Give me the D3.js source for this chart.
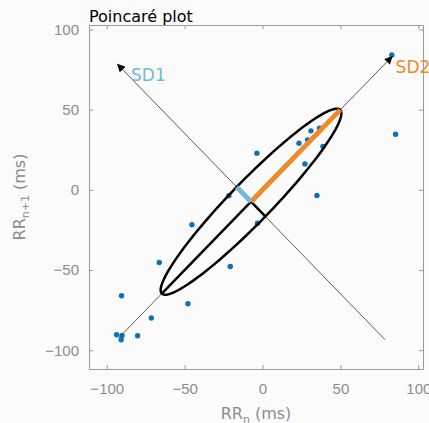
<!DOCTYPE html>
<html>
<head>
<meta charset="utf-8">
<script src="https://cdn.jsdelivr.net/npm/d3@7"></script>
<style>
body { margin: 0; background: #fbfbfb; }
svg { display: block; font-family: "DejaVu Sans", sans-serif; }
.axis text { fill: #8c8c8c; font-size: 15px; }
.axis path, .axis line { stroke: #9a9a9a; }
</style>
</head>
<body>
<svg></svg>
<script>
var screen = {width: 429, height: 423};
var margins = {top: 25, right: 6, bottom: 54, left: 89};

// successive RR deviations (ms)
var rrN  = [83.0, 85.4, 31.1, 36.6, 23.4, 28.9, 38.8, 27.2, 34.9, -3.6, -21.6, -45.3, -3.2, -20.7,
            -66.3, -90.5, -47.9, -71.4, -93.7, -90.2, -90.7, -80.2];
var rrN1 = [84.1, 34.7, 36.8, 38.4, 29.1, 31.2, 27.0, 16.2, -3.5, 22.9, -3.7, -21.8, -20.8, -47.8,
            -45.3, -66.0, -71.0, -79.9, -90.3, -90.8, -93.5, -91.0];
var xTicks = [-100, -50, 0, 50, 100];
var yTicks = [-100, -50, 0, 50, 100];
var xDomain = [-111.4, 103];
var yDomain = [-111.7, 102.8];

// ellipse parameters
var centre = [-7.4, -7.4];
var sd1 = 13;
var sd2 = 81;
var identityEnds = [[-92.5, -92.5], [83.5, 83.5]];
var perpEnds = [[78.6, -93.4], [-93.4, 78.6]];

var width = screen.width - margins.left - margins.right;
var height = screen.height - margins.top - margins.bottom;

var svg = d3.select("svg")
    .attr("width", screen.width)
    .attr("height", screen.height);

svg.append("defs")
    .append("marker")
    .attr("id", "head")
    .attr("viewBox", "0 0 10 10")
    .attr("refX", 10)
    .attr("refY", 5)
    .attr("markerUnits", "userSpaceOnUse")
    .attr("markerWidth", 9)
    .attr("markerHeight", 8)
    .attr("orient", "auto")
    .append("path")
    .attr("d", "M0,0 L10,5 L0,10 Z")
    .attr("fill", "black");

var xScale = d3.scaleLinear().domain(xDomain).range([0, width]);
var yScale = d3.scaleLinear().domain(yDomain).range([height, 0]);

var graph = svg.append("g")
    .attr("transform", "translate(" + margins.left + "," + margins.top + ")");

// axes (ticks pointing inwards, box on all sides)
graph.append("g").attr("class", "axis")
    .attr("transform", "translate(0," + height + ")")
    .call(d3.axisBottom(xScale).tickValues(xTicks).tickSizeInner(-4).tickSizeOuter(0).tickPadding(14));
graph.append("g").attr("class", "axis")
    .call(d3.axisLeft(yScale).tickValues(yTicks).tickSizeInner(-4).tickSizeOuter(0).tickPadding(10));
graph.append("g").attr("class", "axis")
    .call(d3.axisTop(xScale).tickValues(xTicks).tickSizeInner(-4).tickSizeOuter(0).tickFormat(""));
graph.append("g").attr("class", "axis")
    .attr("transform", "translate(" + width + ",0)")
    .call(d3.axisRight(yScale).tickValues(yTicks).tickSizeInner(-4).tickSizeOuter(0).tickFormat(""));

// points
graph.append("g")
    .selectAll("circle")
    .data(rrN)
    .enter()
    .append("circle")
    .attr("cx", function(d){return xScale(d);})
    .attr("cy", function(d, i){return yScale(rrN1[i]);})
    .attr("r", 2.7)
    .attr("fill", "#0b72b8");

var line = d3.line()
    .x(function(d){return xScale(d[0]);})
    .y(function(d){return yScale(d[1]);});

// thin guide lines with arrows
graph.append("path")
    .datum(identityEnds)
    .attr("d", line)
    .attr("stroke", "#333")
    .attr("stroke-width", 0.8)
    .attr("fill", "none")
    .attr("marker-end", "url(#head)");
graph.append("path")
    .datum(perpEnds)
    .attr("d", line)
    .attr("stroke", "#333")
    .attr("stroke-width", 0.8)
    .attr("fill", "none")
    .attr("marker-end", "url(#head)");

// ellipse
var u = [Math.SQRT1_2, Math.SQRT1_2];
var v = [-Math.SQRT1_2, Math.SQRT1_2];
var ellipse = d3.range(0, 361, 3).map(function(a)
{
    var t = a * Math.PI / 180;
    return [centre[0] + sd2 * Math.cos(t) * u[0] + sd1 * Math.sin(t) * v[0],
            centre[1] + sd2 * Math.cos(t) * u[1] + sd1 * Math.sin(t) * v[1]];
});
graph.append("path")
    .datum(ellipse)
    .attr("d", line)
    .attr("stroke", "black")
    .attr("stroke-width", 2.5)
    .attr("fill", "none");

function along(dir, len)
{
    return [centre[0] + dir[0] * len, centre[1] + dir[1] * len];
}

// inner axes of the ellipse
graph.append("path")
    .datum([along(u, -sd2), centre])
    .attr("d", line)
    .attr("stroke", "black").attr("stroke-width", 2.5).attr("fill", "none");
graph.append("path")
    .datum([along(v, -sd1), centre])
    .attr("d", line)
    .attr("stroke", "black").attr("stroke-width", 2.5).attr("fill", "none");
graph.append("path")
    .datum([centre, along(u, sd2)])
    .attr("d", line)
    .attr("stroke", "#f0892a").attr("stroke-width", 5).attr("fill", "none");
graph.append("path")
    .datum([centre, along(v, sd1)])
    .attr("d", line)
    .attr("stroke", "#74b9d9").attr("stroke-width", 5).attr("fill", "none");

// labels
graph.append("text")
    .attr("x", xScale(perpEnds[1][0]) + 14)
    .attr("y", yScale(perpEnds[1][1]) + 17)
    .attr("fill", "#74b9d9")
    .attr("font-size", "17px")
    .text("SD1");
graph.append("text")
    .attr("x", xScale(identityEnds[1][0]) + 3)
    .attr("y", yScale(identityEnds[1][1]) + 17)
    .attr("fill", "#f0892a")
    .attr("font-size", "17px")
    .text("SD2");

// title
svg.append("text")
    .attr("x", margins.left)
    .attr("y", 22)
    .attr("font-size", "16px")
    .attr("fill", "black")
    .text("Poincaré plot");

// axis labels
var xl = svg.append("text")
    .attr("x", margins.left + width / 2)
    .attr("y", 419)
    .attr("text-anchor", "middle")
    .attr("font-size", "16px")
    .attr("fill", "#8c8c8c");
xl.append("tspan").text("RR");
xl.append("tspan").attr("font-size", "11px").attr("dy", 4).text("n");
xl.append("tspan").attr("dy", -4).text(" (ms)");

var yl = svg.append("text")
    .attr("transform", "translate(25," + (margins.top + height / 2) + ") rotate(-90)")
    .attr("text-anchor", "middle")
    .attr("font-size", "16px")
    .attr("fill", "#8c8c8c");
yl.append("tspan").text("RR");
yl.append("tspan").attr("font-size", "11px").attr("dy", 4).text("n+1");
yl.append("tspan").attr("dy", -4).text(" (ms)");
</script>
</body>
</html>
